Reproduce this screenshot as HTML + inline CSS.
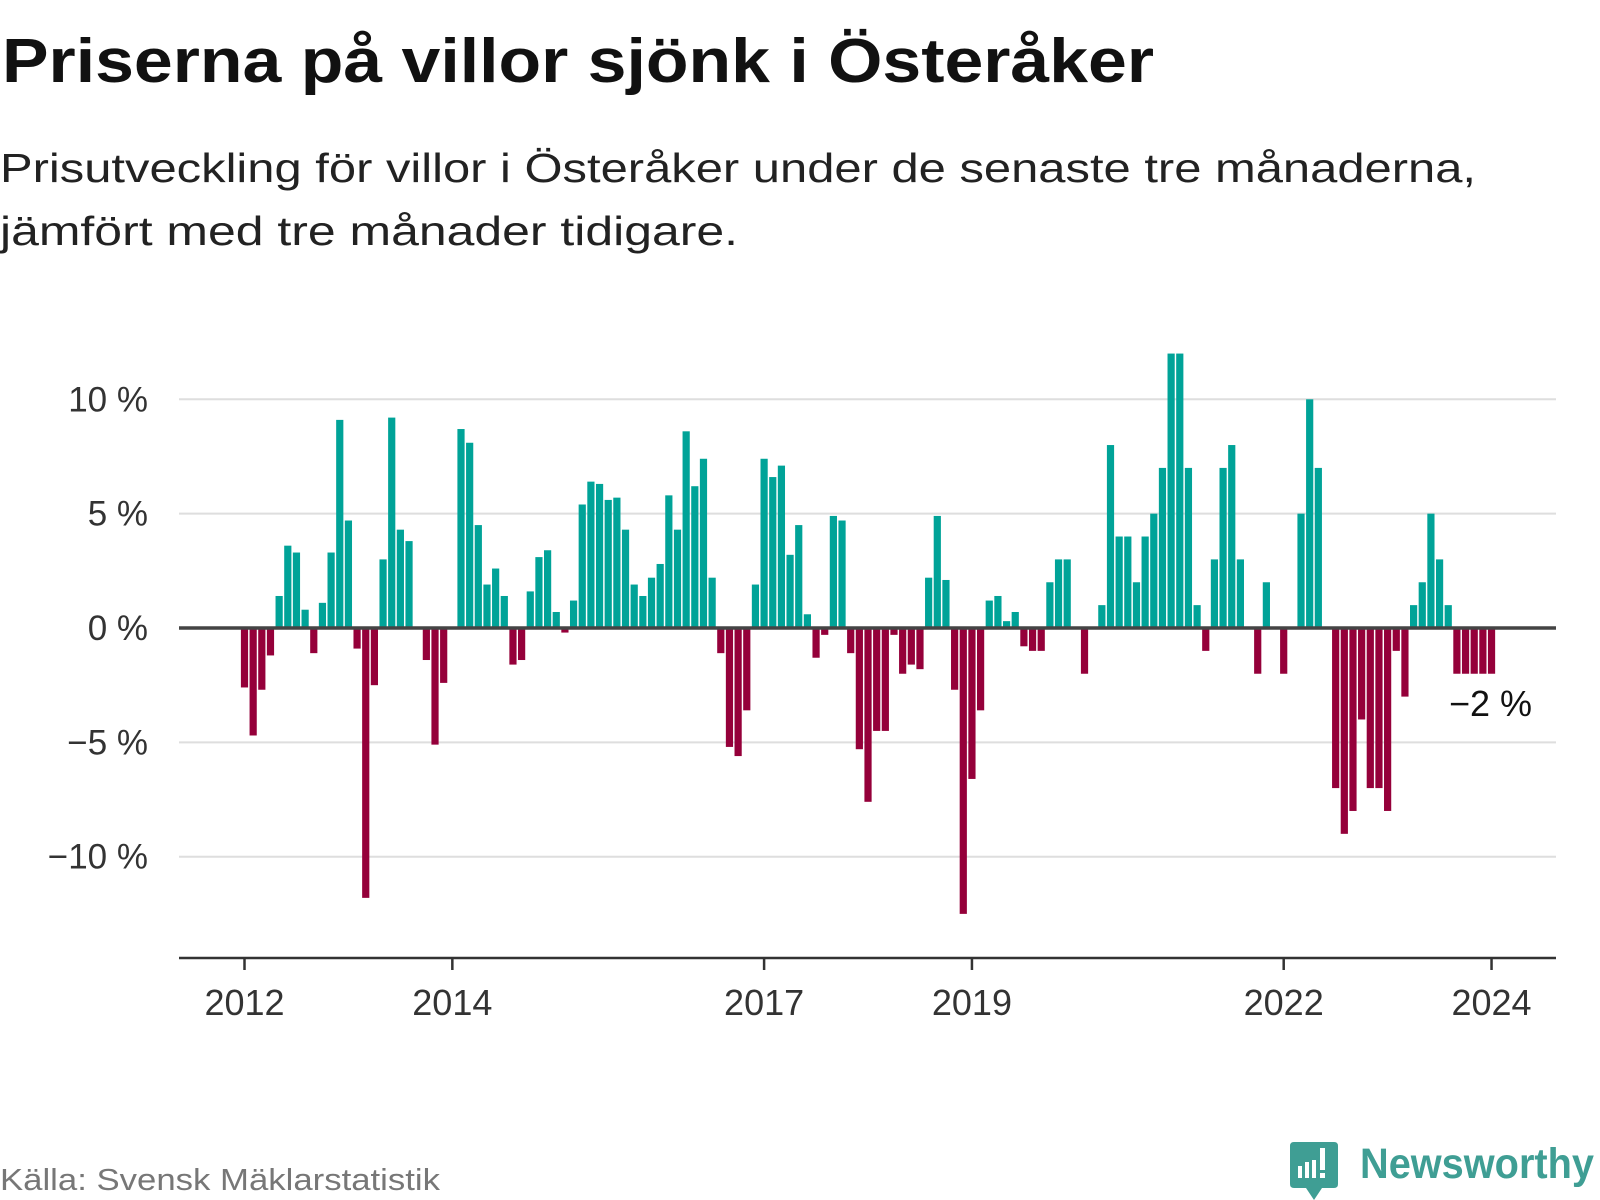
<!DOCTYPE html>
<html><head><meta charset="utf-8"><style>
html,body{margin:0;padding:0;background:#fff;}
svg{display:block;}
text{font-family:"Liberation Sans","DejaVu Sans",sans-serif;}
</style></head><body>
<svg id="chart" width="1600" height="1200" viewBox="0 0 1600 1200" xmlns="http://www.w3.org/2000/svg">
<text x="2" y="82" font-size="62" font-weight="bold" fill="#111" textLength="1152" lengthAdjust="spacingAndGlyphs">Priserna på villor sjönk i Österåker</text>
<text x="0" y="182" font-size="41" fill="#222" textLength="1476" lengthAdjust="spacingAndGlyphs">Prisutveckling för villor i Österåker under de senaste tre månaderna,</text>
<text x="0" y="245" font-size="41" fill="#222" textLength="738" lengthAdjust="spacingAndGlyphs">jämfört med tre månader tidigare.</text>
<g id="grid"></g>
<g id="bars"></g>
<g id="axes"></g>
<text x="1449" y="716" font-size="36" fill="#111">−2 %</text>
<text x="0" y="1190" font-size="31" fill="#777" textLength="440" lengthAdjust="spacingAndGlyphs">Källa: Svensk Mäklarstatistik</text>
<g>
<path d="M1294 1142 H1334 Q1338 1142 1338 1146 V1184 Q1338 1188 1334 1188 H1322 L1314 1200 L1306 1188 H1294 Q1290 1188 1290 1184 V1146 Q1290 1142 1294 1142 Z" fill="#3f9e94"/>
<rect x="1298" y="1166" width="4" height="12" fill="#fff"/>
<rect x="1305" y="1162" width="4" height="16" fill="#fff"/>
<rect x="1312" y="1160" width="4" height="18" fill="#fff"/>
<rect x="1320" y="1148" width="5" height="22" fill="#fff"/>
<rect x="1320" y="1173" width="5" height="5" fill="#fff"/>
<text x="1360" y="1178" font-size="43" font-weight="bold" fill="#3f9e94" textLength="234" lengthAdjust="spacingAndGlyphs">Newsworthy</text>
</g>
</svg>
<script>
// monthly values from Jan 2012 (index 0) to Jan 2024 (index 144); null = no bar
const values = [
-2.6,-4.7,-2.7,-1.2,1.4,3.6,3.3,0.8,-1.1,1.1,3.3,9.1,
4.7,-0.9,-11.8,-2.5,3.0,9.2,4.3,3.8,null,-1.4,-5.1,-2.4,
null,8.7,8.1,4.5,1.9,2.6,1.4,-1.6,-1.4,1.6,3.1,3.4,
0.7,-0.2,1.2,5.4,6.4,6.3,5.6,5.7,4.3,1.9,1.4,2.2,
2.8,5.8,4.3,8.6,6.2,7.4,2.2,-1.1,-5.2,-5.6,-3.6,1.9,
7.4,6.6,7.1,3.2,4.5,0.6,-1.3,-0.3,4.9,4.7,-1.1,-5.3,
-7.6,-4.5,-4.5,-0.3,-2.0,-1.6,-1.8,2.2,4.9,2.1,-2.7,-12.5,
-6.6,-3.6,1.2,1.4,0.3,0.7,-0.8,-1.0,-1.0,2.0,3.0,3.0,
null,-2.0,null,1.0,8.0,4.0,4.0,2.0,4.0,5.0,7.0,12.0,
12.0,7.0,1.0,-1.0,3.0,7.0,8.0,3.0,null,-2.0,2.0,null,
-2.0,null,5.0,10.0,7.0,null,-7.0,-9.0,-8.0,-4.0,-7.0,-7.0,
-8.0,-1.0,-3.0,1.0,2.0,5.0,3.0,1.0,-2.0,-2.0,-2.0,-2.0,
-2.0
];
const yTicks = [10,5,0,-5,-10];
const yTickLabels = ["10 %","5 %","0 %","−5 %","−10 %"];
const xTickIndex = [0,24,60,84,120,144];
const xTickLabels = ["2012","2014","2017","2019","2022","2024"];

const NS="http://www.w3.org/2000/svg";
const X0=244.5, STEP=8.66, Y0=628, PERPCT=22.87;
function xs(i){return X0+i*STEP;}
function ys(v){return Y0-v*PERPCT;}
function mk(tag,attrs,parent){const e=document.createElementNS(NS,tag);for(const k in attrs)e.setAttribute(k,attrs[k]);parent.appendChild(e);return e;}

const grid=document.getElementById('grid');
yTicks.forEach((t,i)=>{
  if(t!==0){
    const l=mk('line',{x1:179,x2:1556,y1:ys(t),y2:ys(t),stroke:'#dedede','stroke-width':2},grid);
    
    
  }
  const tx=mk('text',{x:148,y:ys(t)+12,'font-size':35,fill:'#333','text-anchor':'end'},grid);
  tx.textContent=yTickLabels[i];
  
  
});

const bars=document.getElementById('bars');
values.forEach((v,i)=>{
  if(v===null||v===undefined)return;
  const y=v>=0?ys(v):Y0;
  const h=Math.abs(ys(v)-Y0);
  const r=mk('rect',{x:xs(i)-3.6,y:y,width:7.2,height:h,fill:v>=0?'#00a398':'#95003a'},bars);
  
  
});

const axes=document.getElementById('axes');
const zl=mk('line',{x1:179,x2:1556,y1:Y0,y2:Y0,stroke:'#444','stroke-width':3.5},axes);


const xa=mk('line',{x1:179,x2:1556,y1:958,y2:958,stroke:'#333','stroke-width':2.5},axes);


xTickIndex.forEach((ti,i)=>{
  const tk=mk('line',{x1:xs(ti),x2:xs(ti),y1:958,y2:970,stroke:'#333','stroke-width':2.5},axes);
  
  
  const tx=mk('text',{x:xs(ti),y:1015,'font-size':36,fill:'#333','text-anchor':'middle'},axes);
  tx.textContent=xTickLabels[i];
  
  
});
</script>
</body></html>
